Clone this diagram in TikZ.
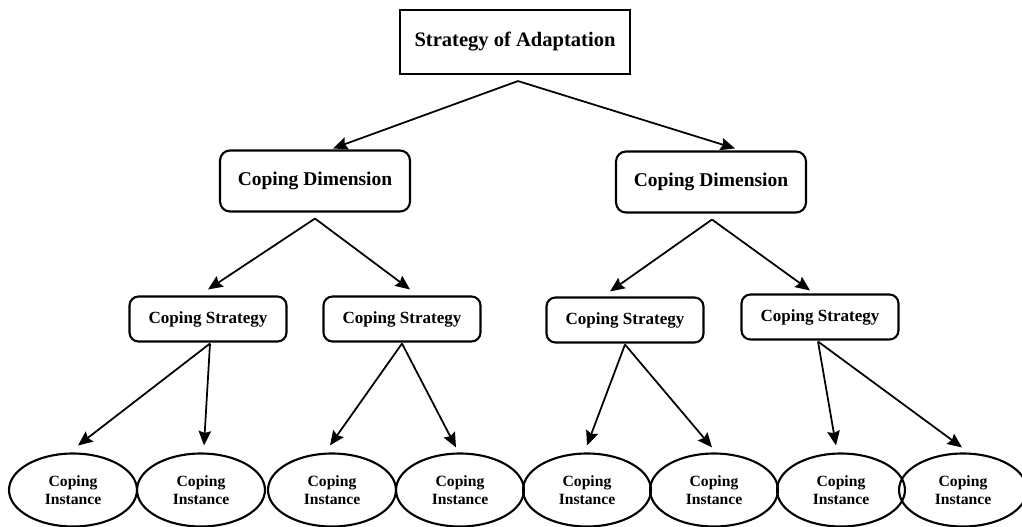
\documentclass[tikz,border=0pt]{standalone}
\usepackage{fontspec}
\setmainfont{Liberation Serif}
\usetikzlibrary{arrows.meta,shapes.geometric,calc}
\begin{document}
\begin{tikzpicture}[x=0.02cm,y=-0.02cm,
  topbox/.style={draw,line width=1.2pt,minimum width=4.6cm,minimum height=1.28cm,inner sep=0pt,font=\bfseries\fontsize{11.7}{14}\selectfont},
  dimbox/.style={draw,line width=1.2pt,rounded corners=0.2cm,minimum width=3.8cm,minimum height=1.22cm,inner sep=0pt,font=\bfseries\fontsize{11.1}{13}\selectfont},
  stratbox/.style={draw,line width=1.2pt,rounded corners=0.18cm,minimum width=3.14cm,minimum height=0.9cm,inner sep=0pt,font=\bfseries\fontsize{9.7}{12}\selectfont},
  inst/.style={draw,ellipse,line width=1.2pt,minimum width=2.56cm,minimum height=1.46cm,inner sep=0pt,align=center,font=\bfseries\fontsize{8.9}{10}\selectfont},
  arr/.style={line width=1pt,-{Stealth[length=0.29cm,width=0.25cm,inset=0.04cm]}}]
\useasboundingbox (0,0) rectangle (1022,527);
\node[topbox] (top) at (515,42) {Strategy of Adaptation};
\node[dimbox] (cd1) at (315,181) {Coping Dimension};
\node[dimbox] (cd2) at (711,182) {Coping Dimension};
\node[stratbox] (cs1) at (208,319) {Coping Strategy};
\node[stratbox] (cs2) at (402,319) {Coping Strategy};
\node[stratbox] (cs3) at (625,320) {Coping Strategy};
\node[stratbox] (cs4) at (820,317) {Coping Strategy};
\node[inst] (e1) at (73,490) {Coping\\Instance};
\node[inst] (e2) at (201,490) {Coping\\Instance};
\node[inst] (e3) at (332,490) {Coping\\Instance};
\node[inst] (e4) at (460,490) {Coping\\Instance};
\node[inst] (e5) at (587,490) {Coping\\Instance};
\node[inst] (e6) at (714,490) {Coping\\Instance};
\node[inst] (e7) at (841,490) {Coping\\Instance};
\node[inst] (e8) at (963,490) {Coping\\Instance};
\coordinate (t0) at ($(top.south)+(3,6)$);
\coordinate (d1) at ($(cd1.south)+(0,6)$);
\coordinate (d2) at ($(cd2.south)+(1,6)$);
\coordinate (s1) at ($(cs1.south)+(2,1)$);
\coordinate (s2) at ($(cs2.south)+(0,1)$);
\coordinate (s3) at ($(cs3.south)+(0,1)$);
\coordinate (s4) at ($(cs4.south)+(-2,1)$);
\draw[arr] (t0) -- ($(cd1.north)+(18,-1)$);
\draw[arr] (t0) -- ($(cd2.north)+(24,-2)$);
\draw[arr] (d1) -- ($(cs1.north)+(0,-6)$);
\draw[arr] (d1) -- ($(cs2.north)+(8,-6)$);
\draw[arr] (d2) -- ($(cs3.north)+(-15,-5)$);
\draw[arr] (d2) -- ($(cs4.north)+(-10,-3)$);
\draw[arr] (s1) -- ($(e1.north)+(5,-7)$);
\draw[arr] (s1) -- ($(e2.north)+(3,-7)$);
\draw[arr] (s2) -- ($(e3.north)+(-2,-7)$);
\draw[arr] (s2) -- ($(e4.north)+(-4,-5)$);
\draw[arr] (s3) -- ($(e5.north)+(0,-7)$);
\draw[arr] (s3) -- ($(e6.north)+(-2,-5)$);
\draw[arr] (s4) -- ($(e7.north)+(-5,-7)$);
\draw[arr] (s4) -- ($(e8.north)+(-1,-5)$);
\end{tikzpicture}
\end{document}
